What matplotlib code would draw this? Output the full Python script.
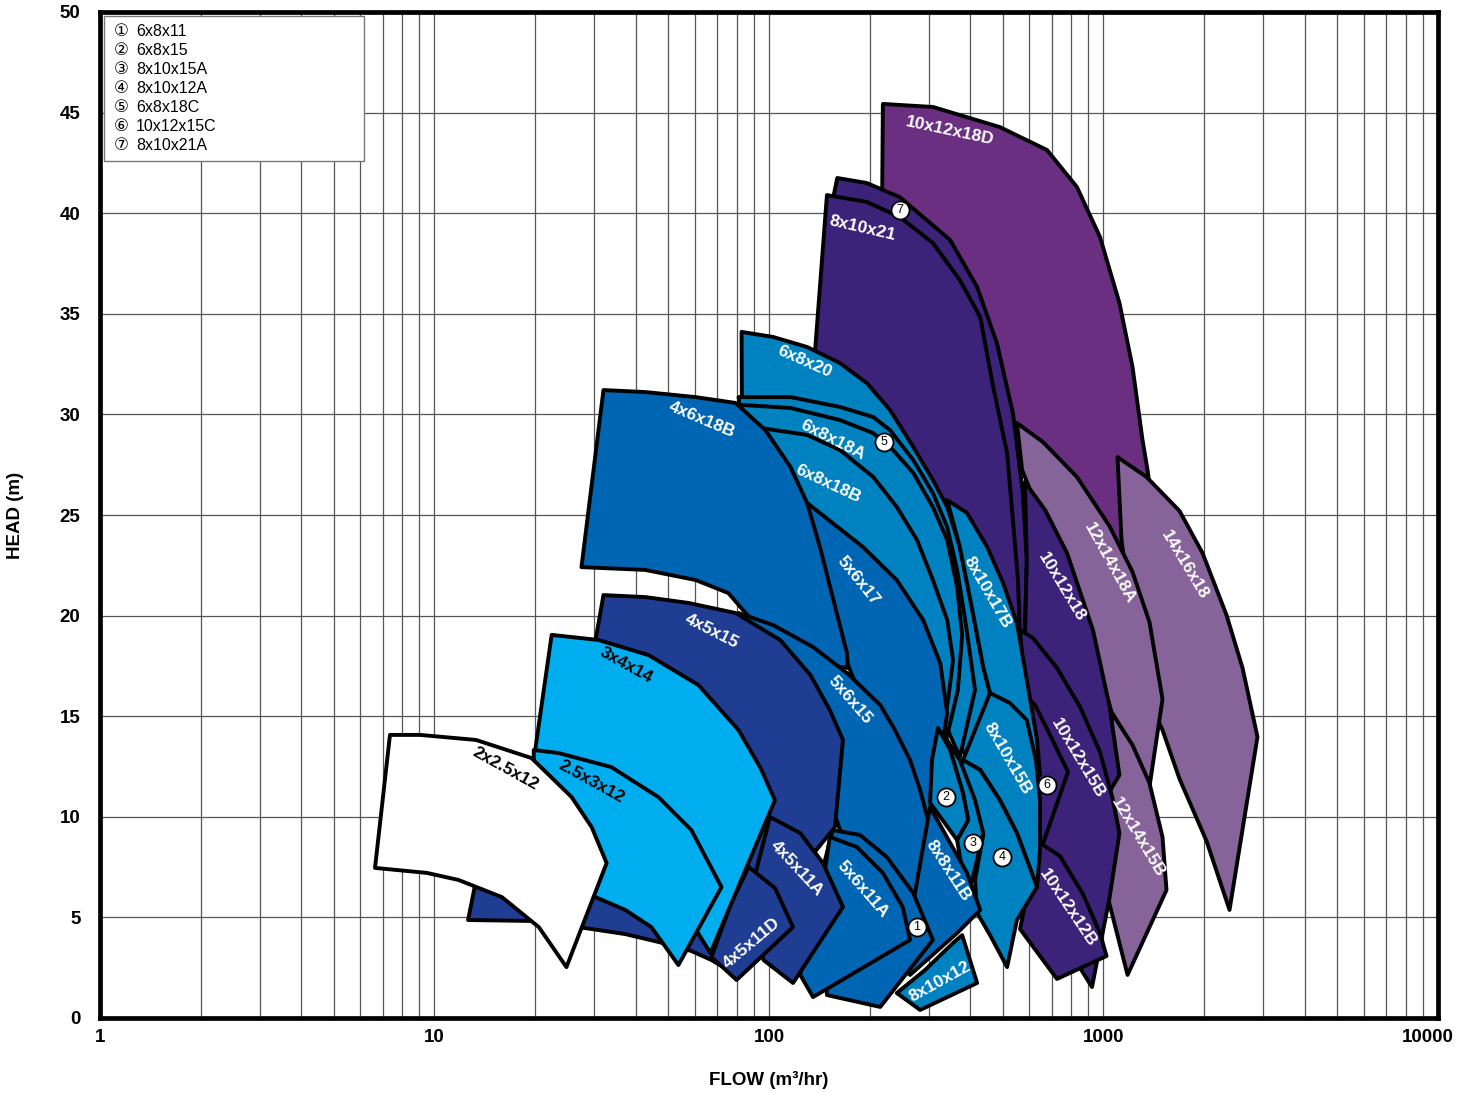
import matplotlib
matplotlib.use("Agg")
import matplotlib.pyplot as plt
import matplotlib.transforms as mtransforms
from matplotlib.patches import Polygon, Rectangle
from matplotlib import font_manager
from matplotlib.ticker import LogLocator, NullFormatter

# pump coverage areas as (flow m3/hr, head m), listed back to front
p_10x12x18D = [(219, 45.43), (309, 45.28), (490, 44.28), (678, 43.14), (833, 41.30), (976, 38.82), (1116, 35.54),
               (1221, 32.36), (1308, 28.73), (1354, 27.24), (1470, 22.76), (976, 22.76), (582, 28.23), (372, 35.69),
               (218, 41.15)]
p_14x16x18 = [(1101, 27.88), (1345, 26.89), (1688, 25.2), (1977, 23.11), (2332, 20.03), (2604, 17.40), (2886, 13.97),
              (2381, 5.37), (2032, 8.80), (1688, 11.88), (1501, 14.31), (1281, 16.80), (1132, 23.76)]
p_12x14x18A = [(551, 29.57), (659, 28.63), (833, 26.89), (1042, 24.45), (1221, 22.17), (1372, 19.68), (1501, 15.85),
               (1372, 11.48), (1196, 13.72), (1057, 15.21), (912, 18.79), (692, 23.76), (571, 27.24)]
p_12x14x15B = [(1064, 15.11), (1221, 13.57), (1372, 11.68), (1501, 9.0), (1543, 6.36), (1180, 2.14), (1028, 6.06),
               (1101, 9.34), (1007, 12.82)]
p_8x10x21A = [(160, 41.75), (196, 41.50), (246, 40.80), (348, 38.67), (419, 36.33), (480, 33.55), (536, 30.07),
              (574, 26.09), (590, 22.76), (582, 18.79), (428, 20.77), (246, 30.71), (155, 40.65)]
p_8x10x21 = [(149, 40.90), (196, 40.56), (246, 39.81), (309, 38.52), (372, 36.68), (428, 34.84), (468, 31.36),
             (515, 28.08), (536, 24.75), (555, 21.77), (563, 18.79), (348, 22.76), (215, 29.72), (137, 32.95)]
p_10x12x18 = [(582, 26.64), (669, 25.25), (778, 23.11), (930, 19.28), (1042, 15.51), (1116, 12.08), (1007, 10.83),
              (741, 15.80), (582, 18.79), (590, 22.76)]
p_10x12x15B = [(563, 19.28), (615, 18.89), (726, 17.40), (851, 15.46), (976, 13.22), (1064, 10.93), (1116, 9.19),
               (1042, 5.96), (924, 1.54), (822, 2.88), (692, 5.86), (646, 8.35), (603, 12.82)]
p_10x12x15C = [(563, 16.30), (624, 15.56), (692, 14.07), (783, 12.23), (659, 8.65), (603, 8.85), (582, 12.82),
               (571, 14.81)]
p_10x12x12B = [(633, 8.80), (741, 8.05), (868, 6.16), (976, 4.22), (1021, 3.08), (726, 1.94), (563, 4.42), (603, 6.86)]
p_6x8x20 = [(82.8, 34.10), (102.8, 33.85), (130, 33.35), (163, 32.55), (196, 31.56), (230, 30.22), (270, 28.38),
            (309, 26.74), (341, 25.40), (372, 23.41), (407, 20.13), (437, 17.45), (458, 16.15), (394, 12.82),
            (313, 15.80), (230, 21.77), (142, 28.23), (83, 29.97)]
p_8x10x17B = [(341, 25.74), (391, 25.10), (449, 23.41), (501, 21.62), (551, 19.63), (590, 16.80), (633, 13.82),
              (646, 12.08), (490, 12.82), (458, 16.15), (437, 17.45), (407, 20.13), (372, 23.41)]
p_6x8x18C = [(81.1, 30.86), (116, 30.86), (163, 30.37), (205, 29.87), (230, 29.22), (270, 27.73), (309, 26.09),
             (341, 24.40), (365, 22.27), (386, 19.78), (413, 16.30), (372, 12.97), (303, 16.30), (222, 21.77),
             (142, 27.24), (83, 29.47)]
p_6x8x18A = [(83, 30.47), (116, 30.32), (163, 29.72), (205, 29.07), (235, 28.23), (270, 27.09), (309, 25.40),
             (341, 23.76), (365, 21.42), (378, 19.04), (367, 16.30), (336, 13.57), (283, 16.30), (215, 20.77),
             (142, 25.74), (84.8, 28.73)]
p_6x8x18B = [(95, 29.32), (130, 28.98), (163, 28.23), (205, 26.89), (241, 25.40), (277, 23.76), (309, 21.77),
             (341, 19.78), (355, 17.79), (343, 15.80), (325, 13.82), (264, 15.80), (200, 19.78), (142, 23.76),
             (100.7, 27.24)]
p_5x6x17 = [(130, 25.60), (155, 24.60), (191, 23.41), (241, 21.77), (289, 19.78), (325, 17.64), (341, 15.16),
            (325, 12.82), (307, 10.83), (297, 9.74), (255, 12.82), (190, 15.80), (152, 19.78), (134, 23.76)]
p_4x6x18B = [(32.0, 31.21), (42.7, 31.11), (60.3, 30.86), (79.4, 30.57), (97.6, 29.22), (116, 27.38), (130, 25.60),
             (142, 23.41), (155, 20.92), (171, 18.14), (172, 17.40), (116, 17.79), (85.1, 20.13), (75.6, 21.12),
             (60.3, 21.77), (42.7, 22.27), (27.5, 22.41)]
p_8x10x15B = [(458, 16.15), (525, 15.66), (590, 14.81), (628, 12.82), (646, 10.83), (646, 8.35), (633, 6.51),
              (551, 9.19), (490, 10.83), (428, 12.33), (380, 12.82), (413, 14.31)]
p_8x10x12A = [(380, 12.82), (428, 12.33), (490, 10.83), (551, 9.19), (633, 6.51), (551, 4.87), (515, 2.53),
              (458, 4.12), (419, 5.22), (413, 6.86), (437, 9.10), (372, 12.33)]
p_8x10x15A = [(329, 14.21), (372, 12.82), (413, 10.83), (437, 9.19), (404, 6.76), (378, 7.36), (365, 8.85),
              (394, 9.84), (380, 11.18), (348, 13.32)]
p_6x8x15 = [(320, 14.41), (348, 13.32), (380, 11.18), (394, 9.84), (365, 8.85), (303, 10.69), (307, 12.82)]
p_5x6x15 = [(81.1, 20.13), (102.8, 19.53), (135.4, 18.44), (171, 17.15), (215, 15.56), (238, 14.31), (264, 12.82),
            (283, 11.33), (299, 9.84), (303, 6.51), (270, 5.62), (175, 7.85), (152, 10.83), (124, 14.81), (93, 17.79)]
p_8x8x11B = [(303, 10.49), (348, 8.70), (391, 7.21), (428, 5.37), (365, 4.22), (264, 2.14), (238, 2.88), (270, 5.72)]
p_8x10x12 = [(241, 1.24), (293, 2.39), (355, 3.73), (378, 4.12), (419, 1.74), (283, 0.40)]
p_6x8x11 = [(155, 9.34), (187, 9.10), (225, 8.0), (270, 6.21), (309, 3.88), (215, 0.55), (149, 1.14), (142, 6.86)]
p_5x6x11A = [(152, 9.0), (183, 8.50), (219, 7.21), (251, 5.52), (264, 3.88), (135.4, 1.04), (124, 2.14), (147, 7.36)]
p_4x5x15 = [(32.0, 21.02), (42.7, 20.92), (57.4, 20.63), (79.4, 20.13), (108, 18.79), (133, 17.05), (152, 15.31),
            (166.4, 13.82), (157.5, 9.49), (124, 7.36), (70.6, 5.86), (40.7, 5.86), (30.9, 7.36), (30.3, 18.79)]
p_3x4x8 = [(12.6, 4.87), (13.35, 6.96), (30.9, 6.86), (70.6, 4.37), (80.0, 2.14), (67.3, 2.88), (58.6, 3.33),
           (46.7, 3.78), (37.2, 4.17), (26.95, 4.52), (20.0, 4.82)]
p_4x5x11A = [(100.7, 9.99), (124, 9.19), (145, 7.70), (166.4, 5.52), (118, 1.74), (96.3, 2.88), (86.9, 5.86)]
p_4x5x11D = [(86.9, 7.51), (104.2, 6.46), (118, 4.52), (80.0, 1.89), (67.3, 3.03), (76.7, 5.62)]
p_3x4x14 = [(22.4, 19.04), (30.9, 18.79), (43.6, 18.04), (61.5, 16.55), (81.1, 14.31), (94.3, 12.43), (104.2, 10.83),
            (66.8, 3.23), (61.1, 4.27), (46.7, 5.62), (30.9, 6.61), (20.5, 7.11), (20.0, 13.32)]
p_2_5x3x12 = [(19.8, 13.32), (23.5, 13.17), (33.8, 12.47), (46.7, 10.98), (58.6, 9.34), (72.1, 6.51), (53.6, 2.63),
              (44.5, 4.52), (37.2, 5.37), (30.3, 6.01), (23.5, 6.61), (19.8, 6.86)]
p_2x2_5x12 = [(7.36, 14.07), (9.05, 14.07), (13.3, 13.82), (19.5, 12.92), (25.7, 10.98), (29.5, 9.49), (32.7, 7.70),
              (24.8, 2.53), (20.5, 4.52), (15.9, 6.01), (11.8, 6.86), (9.5, 7.21), (6.64, 7.46)]

# shape name labels
lab_text = ["10x12x18D", "8x10x21", "6x8x20", "4x6x18B", "6x8x18A", "6x8x18B", "5x6x17", "8x10x17B", "10x12x18",
            "12x14x18A", "14x16x18", "4x5x15", "3x4x14", "5x6x15", "8x10x15B", "10x12x15B", "12x14x15B", "2x2.5x12",
            "2.5x3x12", "4x5x11A", "5x6x11A", "8x8x11B", "10x12x12B", "4x5x11D", "8x10x12"]
lab_q = [348, 191, 128, 62.8, 155, 150, 185, 449, 752, 1042, 1747, 67.3, 37.5, 175, 518, 839, 1264, 16.3, 29.5,
         121, 190, 343, 783, 88.7, 325]
lab_h = [44.09, 39.26, 32.6, 29.72, 28.73, 26.54, 21.72, 21.17, 21.42, 22.61, 22.51, 19.23, 17.54, 15.8, 12.92,
         12.92, 9.0, 12.38, 11.73, 7.46, 6.41, 7.31, 5.47, 3.73, 1.79]
lab_rot = [-12, -13, -24, -23, -27, -25, -51, -60, -59, -61, -59, -27, -29, -49, -60, -59, -59, -29, -29, -47, -49,
           -57, -56, 40, 29]
dark_labels = ["2x2.5x12", "2.5x3x12", "3x4x14"]

# numbered markers
mark_num = ["1", "2", "3", "4", "5", "6", "7"]
mark_q = [277, 338, 407, 497, 221, 678, 246]
mark_h = [4.52, 10.98, 8.70, 8.0, 28.63, 11.58, 40.16]
legend_names = ["6x8x11", "6x8x15", "8x10x15A", "8x10x12A", "6x8x18C", "10x12x15C", "8x10x21A"]
legend_marks = ["\u2460", "\u2461", "\u2462", "\u2463", "\u2464", "\u2465", "\u2466"]

x_ticks = [1, 10, 100, 1000, 10000]
x_labels = ["1", "10", "100", "1000", "10000"]
y_ticks = [0, 5, 10, 15, 20, 25, 30, 35, 40, 45, 50]

white = "#ffffff"
cyan = "#00aeef"
navy = "#1f3d92"
mblue = "#0066b3"
teal = "#0082c1"
dpurple = "#3c2279"
purple = "#6b2f82"
lpurple = "#866398"

shapes = [
    (p_10x12x18D, purple), (p_14x16x18, lpurple), (p_12x14x18A, lpurple), (p_12x14x15B, lpurple),
    (p_8x10x21A, dpurple), (p_8x10x21, dpurple), (p_10x12x18, dpurple), (p_10x12x15B, dpurple),
    (p_10x12x15C, dpurple), (p_10x12x12B, dpurple), (p_6x8x20, teal), (p_8x10x17B, teal),
    (p_6x8x18C, teal), (p_6x8x18A, teal), (p_6x8x18B, teal), (p_5x6x17, mblue), (p_4x6x18B, mblue),
    (p_8x10x15B, teal), (p_8x10x12A, teal), (p_8x10x15A, teal), (p_6x8x15, teal), (p_5x6x15, mblue),
    (p_8x8x11B, mblue), (p_8x10x12, teal), (p_6x8x11, mblue), (p_5x6x11A, mblue), (p_4x5x15, navy),
    (p_3x4x8, navy), (p_4x5x11A, navy), (p_4x5x11D, navy), (p_3x4x14, cyan), (p_2_5x3x12, cyan),
    (p_2x2_5x12, white),
]

names = {f.name for f in font_manager.fontManager.ttflist}
if "Liberation Sans Narrow" in names:
    nfont, lsize, tsize = "Liberation Sans Narrow", 15, 16
else:
    nfont, lsize, tsize = "Liberation Sans", 12.5, 13.5

fig = plt.figure(figsize=(14.6, 10.93), dpi=100)
ax = fig.add_axes([100 / 1460, 1 - 1018 / 1093, 1338 / 1460, 1006 / 1093])
ax.set_xscale("log")
ax.set_xlim(1, 10000)
ax.set_ylim(0, 50)

for pts, col in shapes:
    ax.add_patch(Polygon(pts, closed=True, facecolor=col, edgecolor="black", lw=2.8, joinstyle="round", zorder=2))

for s, q, h, r in zip(lab_text, lab_q, lab_h, lab_rot):
    c = "black" if s in dark_labels else "white"
    ax.text(q, h, s, rotation=r, rotation_mode="anchor", ha="center", va="center", color=c,
            fontsize=lsize, fontweight="bold", family=nfont, zorder=6)

ax.plot(mark_q, mark_h, "o", ms=13, mfc="white", mec="black", mew=1.3, zorder=7)
for n, q, h in zip(mark_num, mark_q, mark_h):
    ax.text(q, h, n, ha="center", va="center", fontsize=9, family="Liberation Sans", zorder=8)

# legend box in the top left corner
ax.add_patch(Rectangle((0.003, 0.852), 0.194, 0.144, transform=ax.transAxes, facecolor="white",
                       edgecolor="#777777", lw=1, zorder=9))
for i, (m, nm) in enumerate(zip(legend_marks, legend_names)):
    yy = 0.981 - i * 0.0189
    ax.text(0.0157, yy, m, transform=ax.transAxes, ha="center", va="center", fontsize=12,
            family=["DejaVu Sans", "Noto Sans CJK JP"], zorder=10)
    ax.text(0.027, yy, nm, transform=ax.transAxes, ha="left", va="center", fontsize=11.5,
            family="Liberation Sans", zorder=10)

ax.set_xticks(x_ticks)
ax.set_xticklabels(x_labels)
ax.xaxis.set_minor_locator(LogLocator(base=10, subs=range(2, 10)))
ax.xaxis.set_minor_formatter(NullFormatter())
ax.set_yticks(y_ticks)
ax.tick_params(which="both", length=0)
ax.tick_params(axis="x", pad=8)
ax.tick_params(axis="y", pad=14)
for lab in ax.get_xticklabels() + ax.get_yticklabels():
    lab.set_fontweight("bold")
    lab.set_fontsize(tsize)
    lab.set_family(nfont)
# keep the last flow label inside the picture
last = ax.get_xticklabels()[-1]
last.set_transform(last.get_transform() + mtransforms.ScaledTranslation(-7 / 72, 0, fig.dpi_scale_trans))

ax.grid(True, which="both", axis="x", color="#555555", lw=0.9)
ax.grid(True, which="major", axis="y", color="#555555", lw=0.9)
ax.set_axisbelow(True)
for sp in ax.spines.values():
    sp.set_linewidth(3.4)

ax.set_xlabel("FLOW (m\u00b3/hr)", fontsize=tsize, fontweight="bold", family=nfont, labelpad=18)
ax.set_ylabel("HEAD (m)", fontsize=tsize, fontweight="bold", family=nfont, labelpad=26)

fig.savefig("out.png", dpi=100)
